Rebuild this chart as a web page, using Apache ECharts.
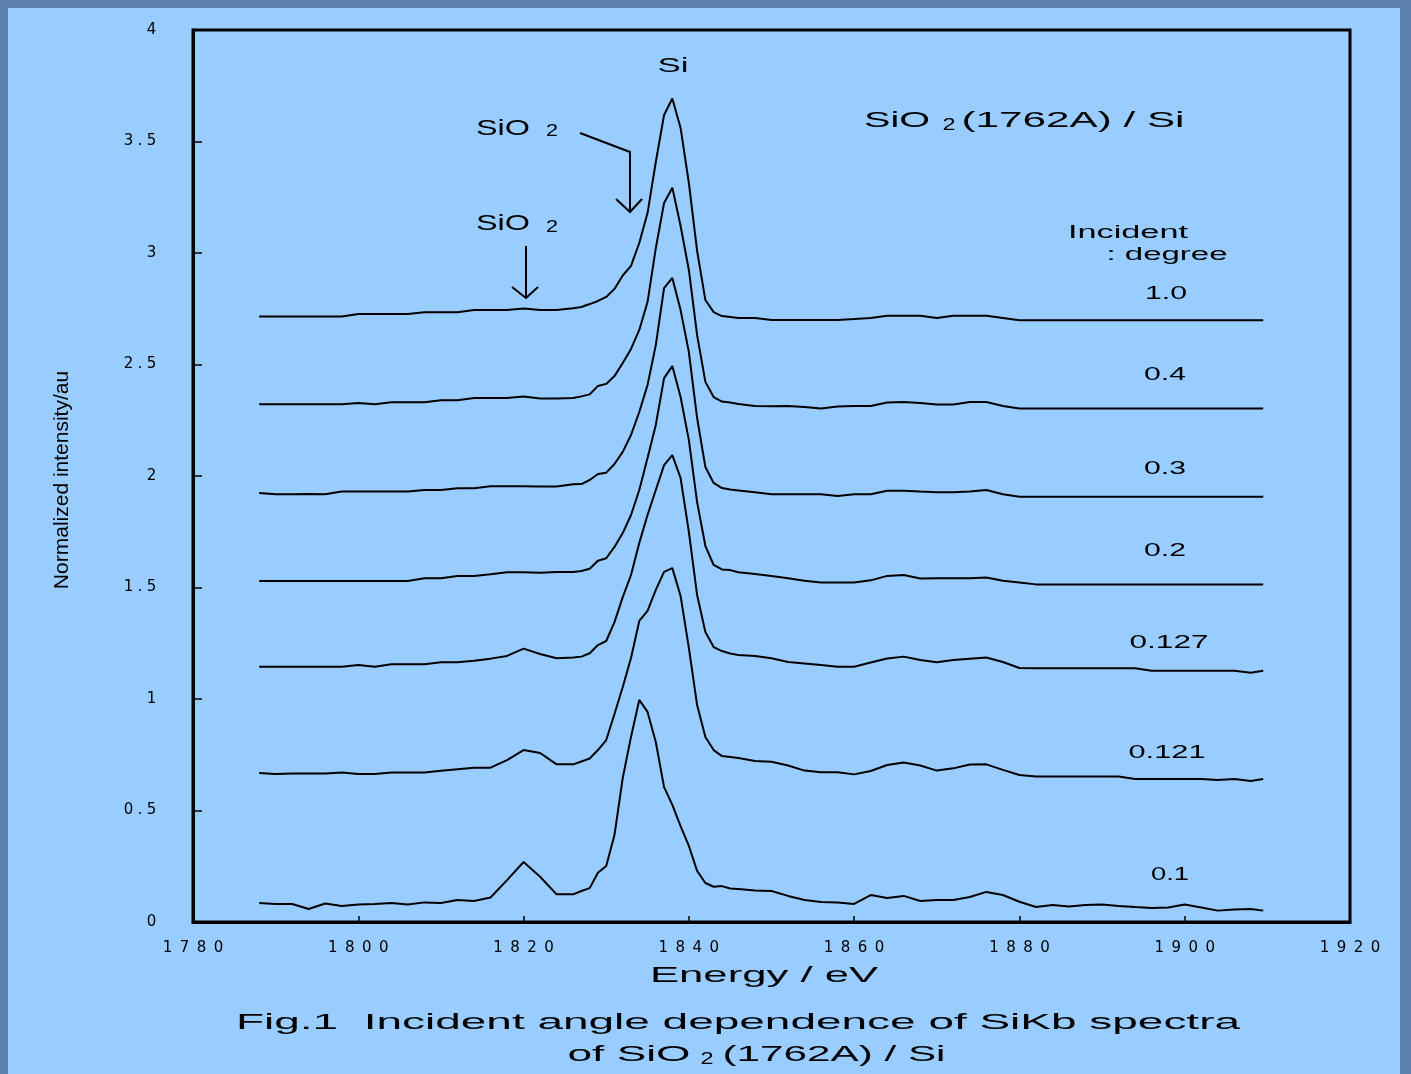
<!DOCTYPE html>
<html>
<head>
<meta charset="utf-8">
<script src="https://cdn.jsdelivr.net/npm/echarts@6/dist/echarts.min.js"></script>
<style>
html, body { margin: 0; padding: 0; background: #5b80ab; }
#chart {
  width: 1411px;
  height: 1074px;
  background: #99ccff;
  box-shadow: inset 8px 8px 0 #5b80ab, inset -11px 0 0 #5b80ab;
}
</style>
</head>
<body>
<div id="chart"></div>
<script>
// energy grid (eV) shared by all spectra
const energy = [1788, 1790, 1792, 1794, 1796, 1798, 1800, 1802, 1804, 1806, 1808, 1810, 1812, 1814, 1816, 1818, 1820, 1822, 1824, 1826,
  1827, 1828, 1829, 1830, 1831, 1832, 1833, 1834, 1835, 1836, 1837, 1838, 1839, 1840, 1841, 1842, 1843, 1844, 1845,
  1846, 1848, 1850, 1852, 1854, 1856, 1858, 1860, 1862, 1864, 1866, 1868, 1870, 1872, 1874, 1876, 1878, 1880,
  1882, 1884, 1886, 1888, 1890, 1892, 1894, 1896, 1898, 1900, 1902, 1904, 1906, 1908, 1909.5]

// normalized intensity, one array per incident angle (degree)
const deg10 = [2.715, 2.715, 2.715, 2.715, 2.715, 2.715, 2.726, 2.726, 2.726, 2.726, 2.734, 2.734, 2.734, 2.744, 2.744, 2.744, 2.751, 2.744, 2.744, 2.752,
  2.758, 2.771, 2.785, 2.803, 2.839, 2.899, 2.942, 3.045, 3.179, 3.408, 3.619, 3.693, 3.561, 3.314, 3.009, 2.789, 2.735, 2.717, 2.713,
  2.709, 2.709, 2.700, 2.700, 2.700, 2.700, 2.700, 2.704, 2.709, 2.719, 2.719, 2.719, 2.709, 2.719, 2.719, 2.719, 2.709, 2.698,
  2.698, 2.698, 2.698, 2.698, 2.698, 2.698, 2.698, 2.698, 2.698, 2.698, 2.698, 2.698, 2.698, 2.698, 2.698]
const deg04 = [2.322, 2.322, 2.322, 2.322, 2.322, 2.322, 2.327, 2.322, 2.331, 2.331, 2.331, 2.340, 2.340, 2.350, 2.350, 2.350, 2.357, 2.348, 2.348, 2.350,
  2.357, 2.366, 2.404, 2.413, 2.448, 2.507, 2.570, 2.655, 2.780, 3.022, 3.224, 3.293, 3.121, 2.924, 2.632, 2.422, 2.354, 2.334, 2.330,
  2.323, 2.314, 2.313, 2.314, 2.309, 2.303, 2.312, 2.314, 2.314, 2.330, 2.332, 2.327, 2.321, 2.321, 2.332, 2.332, 2.314, 2.303,
  2.303, 2.303, 2.303, 2.303, 2.303, 2.303, 2.303, 2.303, 2.303, 2.303, 2.303, 2.303, 2.303, 2.303, 2.303]
const deg03 = [1.924, 1.918, 1.918, 1.919, 1.918, 1.930, 1.930, 1.930, 1.930, 1.930, 1.937, 1.937, 1.945, 1.945, 1.954, 1.954, 1.954, 1.953, 1.953, 1.963,
  1.964, 1.982, 2.009, 2.015, 2.054, 2.108, 2.184, 2.287, 2.408, 2.587, 2.843, 2.888, 2.744, 2.556, 2.260, 2.040, 1.969, 1.946, 1.939,
  1.935, 1.927, 1.918, 1.918, 1.918, 1.918, 1.910, 1.918, 1.918, 1.934, 1.934, 1.930, 1.927, 1.927, 1.930, 1.937, 1.918, 1.907,
  1.907, 1.907, 1.907, 1.907, 1.907, 1.907, 1.907, 1.907, 1.907, 1.907, 1.907, 1.907, 1.907, 1.907, 1.907]
const deg02 = [1.529, 1.529, 1.529, 1.529, 1.529, 1.529, 1.529, 1.529, 1.529, 1.529, 1.541, 1.541, 1.552, 1.552, 1.559, 1.568, 1.568, 1.566, 1.570, 1.570,
  1.574, 1.584, 1.620, 1.631, 1.682, 1.744, 1.825, 1.937, 2.081, 2.229, 2.439, 2.493, 2.354, 2.161, 1.883, 1.686, 1.601, 1.581, 1.578,
  1.568, 1.561, 1.552, 1.541, 1.530, 1.522, 1.522, 1.522, 1.532, 1.552, 1.556, 1.540, 1.541, 1.541, 1.541, 1.545, 1.530, 1.522,
  1.514, 1.514, 1.514, 1.514, 1.514, 1.514, 1.514, 1.514, 1.514, 1.514, 1.514, 1.514, 1.514, 1.514, 1.514]
const deg0127 = [1.145, 1.145, 1.145, 1.145, 1.145, 1.145, 1.152, 1.145, 1.156, 1.156, 1.156, 1.165, 1.165, 1.172, 1.181, 1.193, 1.226, 1.202, 1.183, 1.186,
  1.190, 1.205, 1.242, 1.260, 1.345, 1.457, 1.556, 1.700, 1.825, 1.937, 2.049, 2.094, 1.991, 1.749, 1.466, 1.300, 1.233, 1.215, 1.204,
  1.197, 1.193, 1.183, 1.166, 1.159, 1.152, 1.145, 1.145, 1.164, 1.182, 1.190, 1.175, 1.165, 1.175, 1.181, 1.186, 1.166, 1.139,
  1.138, 1.138, 1.138, 1.138, 1.138, 1.138, 1.138, 1.127, 1.127, 1.127, 1.127, 1.127, 1.127, 1.118, 1.127]
const deg0121 = [0.668, 0.664, 0.666, 0.666, 0.666, 0.670, 0.664, 0.664, 0.670, 0.670, 0.670, 0.678, 0.685, 0.692, 0.692, 0.726, 0.771, 0.758, 0.707, 0.707,
  0.720, 0.733, 0.771, 0.816, 0.933, 1.054, 1.184, 1.350, 1.395, 1.489, 1.570, 1.587, 1.462, 1.229, 0.973, 0.830, 0.771, 0.744, 0.740,
  0.735, 0.722, 0.719, 0.702, 0.679, 0.671, 0.671, 0.662, 0.677, 0.704, 0.715, 0.702, 0.679, 0.689, 0.706, 0.707, 0.682, 0.659,
  0.652, 0.652, 0.652, 0.652, 0.652, 0.652, 0.641, 0.641, 0.641, 0.641, 0.641, 0.637, 0.641, 0.632, 0.641]
const deg01 = [0.085, 0.081, 0.081, 0.058, 0.083, 0.072, 0.079, 0.081, 0.085, 0.079, 0.088, 0.085, 0.099, 0.094, 0.110, 0.188, 0.269, 0.203, 0.124, 0.124,
  0.139, 0.152, 0.221, 0.251, 0.390, 0.646, 0.830, 0.996, 0.942, 0.807, 0.605, 0.525, 0.430, 0.341, 0.229, 0.175, 0.158, 0.161, 0.150,
  0.148, 0.141, 0.139, 0.117, 0.099, 0.090, 0.087, 0.081, 0.121, 0.108, 0.117, 0.094, 0.099, 0.099, 0.112, 0.135, 0.121, 0.091,
  0.067, 0.076, 0.069, 0.076, 0.079, 0.072, 0.067, 0.063, 0.065, 0.078, 0.065, 0.051, 0.056, 0.058, 0.051]

const spectra = [
  { name: '1.0', values: deg10 },
  { name: '0.4', values: deg04 },
  { name: '0.3', values: deg03 },
  { name: '0.2', values: deg02 },
  { name: '0.127', values: deg0127 },
  { name: '0.121', values: deg0121 },
  { name: '0.1', values: deg01 },
]

const FONT = '"Liberation Sans", Arial, sans-serif'
let measureCtx = document.createElement('canvas').getContext('2d')

// the reference text is stretched sideways, so fit each text to its width
function wideText(str, size, cx, cy, width, rot) {
  let font = size + 'px ' + FONT
  measureCtx.font = font
  let w = measureCtx.measureText(str).width
  let el = {
    type: 'text',
    x: cx,
    y: cy,
    silent: true,
    style: { text: str, font: font, fill: '#000', align: 'center', verticalAlign: 'middle', textAlign: 'center', textVerticalAlign: 'middle' },
  }
  if (rot) {
    el.rotation = rot
  } else if (width) {
    el.scaleX = width / w
  }
  return el
}

function arrow(points) {
  return { type: 'polyline', silent: true, shape: { points: points }, style: { stroke: '#000', lineWidth: 2, fill: null } }
}

// tick labels: each character in its own box, like the wide lettering of the original
function spaced(v) {
  return String(v).split('').map(c => (c === '.' ? '{p|.}' : '{d|' + c + '}')).join('')
}
const tickRich = {
  d: { width: 17, align: 'center', fontSize: 15, fontFamily: '"DejaVu Sans", sans-serif', color: '#000', lineHeight: 16 },
  p: { width: 6, align: 'center', fontSize: 15, fontFamily: '"DejaVu Sans", sans-serif', color: '#000', lineHeight: 16 },
}

let chart = echarts.init(document.getElementById('chart'))
chart.setOption({
  animation: false,
  backgroundColor: 'transparent',
  grid: { left: 193, right: 61, top: 30, bottom: 152, show: true, borderColor: '#000', borderWidth: 3 },
  xAxis: {
    type: 'value',
    min: 1780,
    max: 1920,
    interval: 20,
    axisLine: { lineStyle: { color: '#000', width: 3 } },
    axisTick: { inside: true, length: 6, lineStyle: { color: '#000', width: 1.5 } },
    splitLine: { show: false },
    axisLabel: { margin: 18, formatter: spaced, rich: tickRich },
  },
  yAxis: {
    type: 'value',
    min: 0,
    max: 4,
    interval: 0.5,
    axisLine: { lineStyle: { color: '#000', width: 3 } },
    axisTick: { inside: true, length: 9, lineStyle: { color: '#000', width: 1.5 } },
    splitLine: { show: false },
    axisLabel: { margin: 33, formatter: spaced, rich: tickRich },
  },
  series: spectra.map(s => ({
    name: s.name,
    type: 'line',
    data: energy.map((e, i) => [e, s.values[i]]),
    showSymbol: false,
    silent: true,
    lineStyle: { color: '#000', width: 2 },
  })),
  graphic: [
    // peak annotations
    wideText('Si', 20, 673, 66, 31),
    wideText('SiO', 22, 503, 129, 54),
    wideText('2', 16, 552, 132, 12),
    wideText('SiO', 22, 503, 224, 54),
    wideText('2', 16, 552, 228, 12),
    arrow([[580, 133], [630, 152], [630, 212]]),
    arrow([[616, 199], [630, 212], [642, 199]]),
    arrow([[526, 246], [526, 298]]),
    arrow([[512, 287], [526, 298], [538, 287]]),
    // sample label
    wideText('SiO', 22, 897, 121, 66),
    wideText('2', 16, 949, 126, 13),
    wideText('(1762A) / Si', 22, 1073, 121, 223),
    // incident angle labels
    wideText('Incident', 18, 1128, 233, 120),
    wideText(': degree', 18, 1167, 255, 121),
    wideText('1.0', 18, 1166, 294, 42),
    wideText('0.4', 18, 1165, 375, 42),
    wideText('0.3', 18, 1165, 469, 42),
    wideText('0.2', 18, 1165, 551, 42),
    wideText('0.127', 18, 1169, 643, 79),
    wideText('0.121', 18, 1167, 753, 77),
    wideText('0.1', 18, 1170, 875, 38),
    // axis titles
    wideText('Energy / eV', 22, 764, 976, 228),
    wideText('Normalized intensity/au', 21, 62, 480, 0, Math.PI / 2),
    // caption
    wideText('Fig.1  Incident angle dependence of SiKb spectra', 22, 738, 1023, 1004),
    wideText('of SiO', 22, 629, 1055, 123),
    wideText('2', 16, 707, 1060, 13),
    wideText('(1762A) / Si', 22, 834, 1055, 223),
  ],
})
</script>
</body>
</html>
